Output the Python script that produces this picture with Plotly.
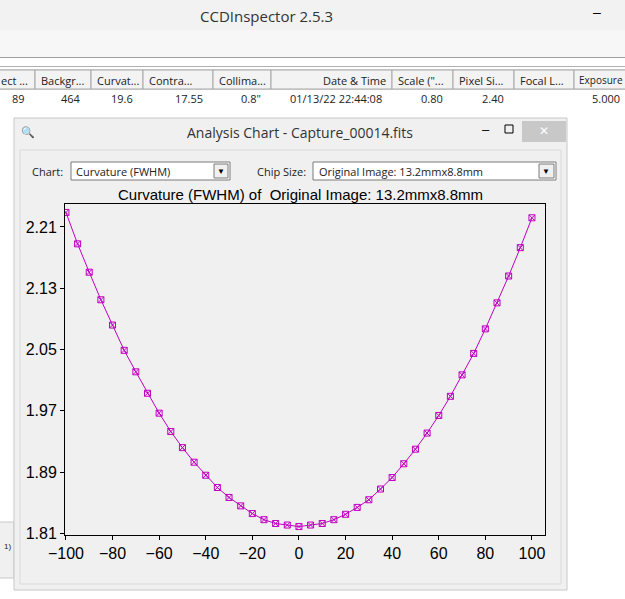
import plotly.graph_objects as go

# offset from centre of the chip (%) and FWHM curvature values
x_pos = [-100, -95, -90, -85, -80, -75, -70, -65, -60, -55, -50, -45, -40, -35, -30, -25, -20,
         -15, -10, -5, 0, 5, 10, 15, 20, 25, 30, 35, 40, 45, 50, 55, 60, 65, 70, 75, 80, 85, 90, 95, 100]
fwhm = [2.229, 2.188, 2.151, 2.115, 2.082, 2.049, 2.021, 1.993, 1.967, 1.943, 1.922, 1.903, 1.886,
        1.870, 1.857, 1.846, 1.836, 1.828, 1.823, 1.821, 1.819, 1.821, 1.823, 1.828, 1.835, 1.844,
        1.854, 1.868, 1.883, 1.901, 1.920, 1.941, 1.964, 1.989, 2.017, 2.045, 2.077, 2.111, 2.146,
        2.183, 2.222]
y_ticks = [1.81, 1.89, 1.97, 2.05, 2.13, 2.21]
x_ticks = [-100, -80, -60, -40, -20, 0, 20, 40, 60, 80, 100]

headers = ["ect ...", "Backgr...", "Curvat...", "Contra...", "Collima...", "Date & Time",
           "Scale (\"...", "Pixel Si...", "Focal L...", "Exposure"]
row_vals = ["89", "464", "19.6", "17.55", "0.8\"", "01/13/22 22:44:08", "0.80", "2.40", "", "5.000"]
col_edges = [-5, 35, 91, 143, 213, 271, 392, 453, 514, 574, 640]

W, H = 625, 599
L, R, T, B = 65, 545, 204, 535

def px(x):
    return (x - L) / (R - L)

def py(y):
    return (B - y) / (B - T)

shapes = []
annots = []

def rect(x0, y0, x1, y1, fill, line=None, lw=1):
    shapes.append(dict(type="rect", xref="paper", yref="paper", x0=px(x0), x1=px(x1),
                       y0=py(y1), y1=py(y0), fillcolor=fill, layer="below",
                       line=dict(color=line or fill, width=lw if line else 0)))

def text(x, y, s, size=12, anchor="left", color="#222", font="Liberation Sans"):
    annots.append(dict(x=px(x), y=py(y), xref="paper", yref="paper", text=s, showarrow=False,
                       xanchor=anchor, yanchor="middle", font=dict(size=size, color=color, family=font)))

# main app window
rect(-10, -10, 640, 30, "#f2f2f2")
text(198, 16, "CCDInspector 2.5.3", 15, color="#333", font="Open Sans")
text(597, 12, "–", 14, "center", "#000")
rect(-10, 30, 640, 57, "#f7f7f7")
rect(-10, 57, 640, 58, "#a0a0a0")
rect(-10, 66, 640, 67, "#b0b0b0")
rect(-10, 70, 640, 89, "#f3f3f3", "#b8b8b8")
for i, h in enumerate(headers):
    rect(col_edges[i], 70, col_edges[i + 1], 89, "#f3f3f3", "#a8a8a8")
    if h == "Date & Time":
        text(col_edges[i + 1] - 4, 80, h, 11, "right", font="Open Sans")
    elif h == "Exposure":
        text(col_edges[i] + 3, 80, h, 10, font="Open Sans")
    else:
        text(col_edges[i] + 4, 80, h, 11, font="Open Sans")
for i, v in enumerate(row_vals):
    if v:
        text(min(col_edges[i + 1] - 8, 622), 98, v, 11, "right", font="Open Sans")
rect(-10, 522, 14, 578, "#f0f0f0", "#c8c8c8")
text(2, 546, "1)", 8)

# analysis dialog
rect(14, 118, 567, 590, "#f0f0f0", "#c8c8c8")
text(300, 133, "Analysis Chart - Capture_00014.fits", 14, "center", "#333", "Open Sans")
text(28, 132, "🔍", 11, "center", "#666")
text(486, 129, "–", 13, "center", "#000")
rect(505, 125, 513, 133, "#f0f0f0", "#000")
rect(522, 121, 566, 142, "#c8c8c8")
text(544, 131, "✕", 12, "center", "#fff")
rect(20, 150, 561, 584, "#f0f0f0", "#dadada")
text(30, 171, "Chart:", 11, font="Open Sans")
rect(71, 162, 230, 180, "#ffffff", "#7a7a7a")
text(74, 171, "Curvature (FWHM)", 11, font="Open Sans")
rect(214, 164, 228, 178, "#f0f0f0", "#7a7a7a")
text(221, 171, "▼", 8, "center", "#000")
text(255, 171, "Chip Size:", 11, font="Open Sans")
rect(313, 162, 556, 180, "#ffffff", "#7a7a7a")
text(317, 171, "Original Image: 13.2mmx8.8mm", 11, font="Open Sans")
rect(539, 164, 554, 178, "#f0f0f0", "#7a7a7a")
text(546, 171, "▼", 8, "center", "#000")
text(300, 195, "Curvature (FWHM) of  Original Image: 13.2mmx8.8mm", 15, "center", "#000")

fig = go.Figure(go.Scatter(
    x=x_pos, y=fwhm, mode="lines+markers",
    line=dict(color="#c000c0", width=1),
    marker=dict(symbol="square-x-open", size=6, color="#c000c0", line=dict(width=1))))

fig.update_layout(
    width=W, height=H, margin=dict(l=L, r=W - R, t=T, b=H - B),
    paper_bgcolor="#ffffff", plot_bgcolor="#f0f0f0", showlegend=False,
    shapes=shapes, annotations=annots,
    font=dict(family="Liberation Sans", size=16, color="#000"),
)
fig.update_xaxes(range=[-100.4, 105.6], tickvals=x_ticks, showgrid=False, zeroline=False,
                 showline=True, mirror=True, linecolor="#000", linewidth=1,
                 ticks="outside", ticklen=4, tickcolor="#000")
fig.update_yaxes(range=[1.808, 2.240], tickvals=y_ticks, tickformat=".2f", showgrid=False,
                 zeroline=False, showline=True, mirror=True, linecolor="#000", linewidth=1,
                 ticks="outside", ticklen=4, tickcolor="#000")

fig.write_html("out.html", config={"displayModeBar": False},
               post_script="document.body.style.margin='0';document.body.style.overflow='hidden';")
